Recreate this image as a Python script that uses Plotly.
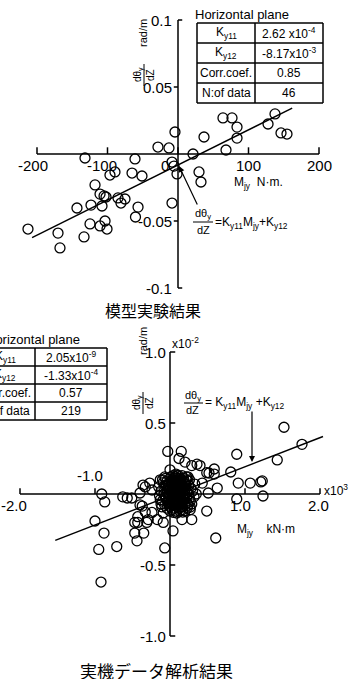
import plotly.graph_objects as go

W, H = 350, 679

# ---------------- data: model experiment (top) ----------------
top_mjy = [63.8, 76.6, 83.7, 137.6, 127.7, 146.1, 154.6, 36.9, 83.7, 68.1,
           21.3, -4.3, -28.4, -12.8, -131.9, -61.0, -8.5, -5.7, -1.4, 29.8,
           32.6, -96.5, -89.4, -65.2, -51.1, -117.7, -110.6, -104.9, -102.1, -85.1,
           -75.2, -80.9, -123.4, -107.8, -143.3, -56.7, -8.5, -60.3, -124.8, -110.6,
           -103.5, -100.7, -212.8, -170.2, -133.3, -167.4]
top_dtheta = [0.0269, 0.0269, 0.0201, 0.0299, 0.0224, 0.0157, 0.0149, 0.0127, 0.0119, 0.0030,
              0.0000, 0.0164, 0.0052, 0.0045, -0.0030, -0.0037, -0.0060, -0.0090, -0.0149, -0.0134,
              -0.0209, -0.0157, -0.0134, -0.0142, -0.0164, -0.0231, -0.0299, -0.0313, -0.0321, -0.0328,
              -0.0336, -0.0366, -0.0381, -0.0388, -0.0403, -0.0396, -0.0366, -0.0470, -0.0522, -0.0537,
              -0.0500, -0.0560, -0.0560, -0.0590, -0.0619, -0.0701]
top_K11, top_K12 = 2.62e-4, -8.17e-3
top_line_x = [-207, 162]
top_table = [["K<sub>y11</sub>", "2.62 x10<sup>-4</sup>"],
             ["K<sub>y12</sub>", "-8.17x10<sup>-3</sup>"],
             ["Corr.coef.", "0.85"],
             ["N:of data", "46"]]
top_xticks = [-200, -100, 0, 100, 200]
top_xtick_text = ["-200", "-100", "0", "100", "200"]
top_yticks = [0.1, 0.05, -0.05, -0.1]
top_ytick_text = ["0.1", "0.05", "-0.05", "-0.1"]

# ---------------- data: full-scale ship data (bottom) ----------------
# Mjy in x10^3 kN·m, dθy/dZ in x10^-2 rad/m
bot_out_x = [1.52, 1.76, 0.89, 1.43, 0.81, 0.59, 0.91, 1.07, 1.23, 1.21,
             0.63, 0.89, 1.24, -0.03, 0.15, 0.12, 0.20, 0.29, 0.36, 0.40,
             0.59, 0.49, 0.00, 0.09, -0.91, -0.87, -1.00, -0.88, -0.95, -0.71,
             -0.92, -0.57, -0.51, -0.40, -0.33, -0.37, -0.33, -0.43, -0.47, -0.35,
             -0.44, -0.29, -0.07, 0.61, 0.49, 0.29, 0.16, 0.04, -0.09, -0.47,
             -0.24, -0.17, -0.63, -0.36, -0.27, -0.24, -0.13, -0.07, 0.24, 0.23,
             0.27, 0.17, 0.09, -0.09, -0.31, -0.43, 0.51, 0.43, 0.52, -0.40]
bot_out_y = [0.47, 0.35, 0.28, 0.24, 0.155, 0.176, 0.077, 0.077, 0.092, 0.085,
             0.042, -0.035, -0.014, 0.30, 0.30, 0.25, 0.225, 0.20, 0.21, 0.20,
             0.14, 0.15, 0.17, 0.13, 0.00, -0.056, -0.19, -0.275, -0.39, -0.37,
             -0.62, -0.028, -0.028, 0.007, 0.05, -0.085, -0.127, -0.20, -0.275, -0.275,
             -0.33, -0.18, -0.38, -0.31, -0.12, -0.18, -0.18, -0.26, -0.20, -0.20,
             -0.13, -0.18, -0.02, 0.063, 0.077, 0.028, 0.10, 0.12, 0.12, -0.063,
             -0.092, -0.127, -0.134, -0.134, -0.20, -0.16, 0.007, 0.077, 0.148, -0.077]
bot_core_x = [0.05, 0.10, 0.02, 0.12, 0.07, -0.03, 0.15, 0.08, -0.06, 0.18,
              0.03, 0.11, -0.01, 0.20, 0.14, -0.08, 0.06, 0.22, 0.00, 0.16,
              -0.10, 0.09, 0.25, -0.04, 0.13, 0.04, 0.19, -0.12, 0.27, 0.01,
              0.08, 0.12, 0.04, 0.10, 0.06, 0.17, -0.02, 0.13, 0.07, 0.21,
              -0.07, 0.03, 0.24, 0.11, -0.14, 0.30, 0.05, 0.15, -0.05, 0.09,
              0.02, 0.14, 0.26, -0.09, 0.18, 0.00, 0.08, 0.23, -0.11, 0.32,
              0.06, 0.10, 0.01, 0.16, 0.12, 0.04, -0.03, 0.20, 0.08, 0.28,
              -0.15, 0.07, 0.13, 0.03, 0.11, 0.19, -0.01, 0.09, 0.17, 0.05,
              0.22, -0.06, 0.33, 0.14, 0.06, -0.13, 0.25, 0.10, 0.02, 0.18,
              0.07, 0.11, 0.03, 0.15, 0.09, -0.04, 0.21, 0.12, 0.00, 0.29,
              -0.08, 0.16, 0.05, 0.24, 0.13, -0.02, 0.08, 0.19, 0.04, 0.27,
              0.10, 0.06, 0.14, 0.01, 0.17, -0.05, 0.23, 0.11, 0.07, -0.10,
              0.20, 0.03, 0.12, 0.35, 0.09, -0.12, 0.15, 0.06, 0.26, 0.02,
              0.08, 0.13, 0.18, -0.01, 0.05, 0.10, 0.22, 0.04, -0.07, 0.16,
              0.11, 0.07, 0.14, 0.03, 0.19, 0.09, 0.12, 0.06, 0.17]
bot_core_y = [0.02, -0.01, -0.03, 0.04, -0.05, 0.01, 0.00, 0.06, -0.02, -0.04,
              0.08, -0.08, -0.07, 0.03, 0.09, 0.04, -0.10, -0.02, 0.05, -0.06,
              -0.05, 0.11, 0.06, 0.09, -0.12, -0.02, 0.08, 0.02, -0.05, 0.12,
              0.00, 0.01, 0.03, -0.04, 0.04, 0.02, -0.04, -0.02, 0.09, 0.07,
              -0.08, -0.11, -0.08, 0.13, -0.01, 0.02, -0.06, 0.05, 0.06, -0.03,
              0.01, -0.09, 0.10, 0.08, 0.11, -0.09, -0.12, -0.10, -0.09, -0.02,
              0.07, 0.03, -0.01, 0.01, -0.05, 0.10, -0.06, -0.07, 0.14, 0.04,
              0.05, 0.02, 0.07, -0.05, -0.02, -0.01, 0.03, 0.05, -0.11, -0.13,
              0.12, 0.11, 0.07, 0.03, -0.08, -0.04, 0.00, 0.08, 0.06, -0.03,
              -0.01, 0.06, 0.00, -0.07, 0.10, -0.10, 0.04, -0.10, -0.12, -0.07,
              0.00, 0.13, 0.05, 0.09, 0.00, 0.07, -0.07, 0.05, -0.08, -0.11,
              0.01, -0.03, 0.06, 0.09, -0.05, -0.03, 0.01, 0.10, 0.12, 0.10,
              -0.12, 0.04, -0.07, 0.00, -0.09, -0.07, 0.10, 0.01, -0.03, -0.06,
              0.03, 0.11, 0.00, 0.00, 0.08, -0.06, 0.10, 0.13, 0.06, -0.09,
              0.04, 0.05, -0.04, 0.02, 0.09, 0.07, 0.02, -0.04, 0.04]
bot_K11_scaled, bot_K12_scaled = 0.205, -0.0133   # K11=2.05e-9, K12=-1.33e-4 in plotted units
bot_line_x = [-1.53, 2.04]
bot_table = [["K<sub>y11</sub>", "2.05x10<sup>-9</sup>"],
             ["K<sub>y12</sub>", "-1.33x10<sup>-4</sup>"],
             ["Corr.coef.", "0.57"],
             ["N.of data", "219"]]
bot_xticks = [-2.0, -1.0, 1.0, 2.0]
bot_xtick_text = ["-2.0", "-1.0", "1.0", "2.0"]
bot_yticks = [1.0, 0.5, -0.5, -1.0]
bot_ytick_text = ["1.0", "0.5", "-0.5", "-1.0"]

FONT = "Liberation Sans, Arial, sans-serif"
CJK = "Noto Sans CJK JP"


def px(x):
    return x / W


def py(y):
    return 1 - y / H


fig = go.Figure()

fig.update_layout(
    width=W, height=H, autosize=False,
    margin=dict(l=0, r=0, t=0, b=0),
    paper_bgcolor="white", plot_bgcolor="white",
    showlegend=False,
    xaxis=dict(domain=[0, 1], range=[-178 / 0.705, 172 / 0.705], visible=False),
    yaxis=dict(domain=[py(300), 1], range=[(154 - 300) / 1340, 154 / 1340], visible=False),
    xaxis2=dict(domain=[0, 1], range=[-170 / 75, 180 / 75], visible=False, anchor="y2"),
    yaxis2=dict(domain=[0, py(320)], range=[(494 - 679) / 142, (494 - 320) / 142],
                visible=False, anchor="x2"),
)

mk = dict(symbol="circle-open", size=10, color="black", line=dict(width=1.3, color="black"))

fig.add_trace(go.Scatter(x=top_mjy, y=top_dtheta, mode="markers", marker=mk,
                         xaxis="x", yaxis="y", cliponaxis=False))
fig.add_trace(go.Scatter(x=top_line_x, y=[top_K11 * v + top_K12 for v in top_line_x],
                         mode="lines", line=dict(color="black", width=1.4),
                         xaxis="x", yaxis="y"))

fig.add_trace(go.Scatter(x=bot_out_x + bot_core_x, y=bot_out_y + bot_core_y, mode="markers",
                         marker=dict(symbol="circle-open", size=10, color="black",
                                     line=dict(width=1.3, color="black")),
                         xaxis="x2", yaxis="y2", cliponaxis=False))
fig.add_trace(go.Scatter(x=bot_line_x, y=[bot_K11_scaled * v + bot_K12_scaled for v in bot_line_x],
                         mode="lines", line=dict(color="black", width=1.4),
                         xaxis="x2", yaxis="y2"))

shapes = []
ann = []
AX = dict(color="black", width=1.5)

# ---- top axes lines ----
shapes.append(dict(type="line", xref="x", yref="y", x0=-200, x1=200, y0=0, y1=0, line=AX))
shapes.append(dict(type="line", xref="x", yref="y", x0=0, x1=0, y0=-0.1, y1=0.1, line=AX))
for v, t in zip(top_xticks, top_xtick_text):
    shapes.append(dict(type="line", xref="x", yref="y", x0=v, x1=v, y0=0, y1=0.005, line=AX))
    shift = {-200: -4, -100: -6, 0: -13, 100: 0, 200: 0}[v]
    ann.append(dict(x=v, y=0, xref="x", yref="y", text=t, showarrow=False,
                    xanchor="center", yanchor="middle", xshift=shift, yshift=-11,
                    font=dict(family=FONT, size=15, color="black")))
for v, t in zip(top_yticks, top_ytick_text):
    shapes.append(dict(type="line", xref="x", yref="y", x0=0, x1=6 if abs(v) > 0.07 else -6,
                       y0=v, y1=v, line=AX))
    ann.append(dict(x=0, y=v, xref="x", yref="y", text=t, showarrow=False,
                    xanchor="right", yanchor="middle", xshift=-4,
                    font=dict(family=FONT, size=15, color="black")))

# ---- bottom axes lines ----
shapes.append(dict(type="line", xref="x2", yref="y2", x0=-2.0, x1=2.0, y0=0, y1=0, line=AX))
shapes.append(dict(type="line", xref="x2", yref="y2", x0=0, x1=0, y0=-1.0, y1=1.0, line=AX))
for v, t in zip(bot_xticks, bot_xtick_text):
    shapes.append(dict(type="line", xref="x2", yref="y2", x0=v, x1=v, y0=0, y1=0.04, line=AX))
    if v == -1.0:
        ann.append(dict(x=v, y=0, xref="x2", yref="y2", text=t, showarrow=False,
                        xanchor="center", yanchor="middle", xshift=-5, yshift=19,
                        font=dict(family=FONT, size=15, color="black")))
    else:
        shift = {-2.0: -6, 1.0: -5, 2.0: -2}[v]
        ann.append(dict(x=v, y=0, xref="x2", yref="y2", text=t, showarrow=False,
                        xanchor="center", yanchor="middle", xshift=shift, yshift=-11,
                        font=dict(family=FONT, size=15, color="black")))
for v, t in zip(bot_yticks, bot_ytick_text):
    shapes.append(dict(type="line", xref="x2", yref="y2", x0=0, x1=0.07, y0=v, y1=v, line=AX))
    ann.append(dict(x=0, y=v, xref="x2", yref="y2", text=t, showarrow=False,
                    xanchor="right", yanchor="middle", xshift=-2,
                    font=dict(family=FONT, size=15, color="black")))


def text(xp, yp, t, size=12, xanchor="center", angle=0, family=FONT):
    ann.append(dict(x=px(xp), y=py(yp), xref="paper", yref="paper", text=t, showarrow=False,
                    xanchor=xanchor, yanchor="middle", textangle=angle,
                    font=dict(family=family, size=size, color="black")))


def pline(x0, y0, x1, y1, w=1.3):
    shapes.append(dict(type="line", xref="paper", yref="paper", x0=px(x0), y0=py(y0),
                       x1=px(x1), y1=py(y1), line=dict(color="black", width=w)))


def arrow(x_head, y_head, x_tail, y_tail):
    ann.append(dict(x=px(x_head), y=py(y_head), xref="paper", yref="paper", text="",
                    showarrow=True, axref="pixel", ayref="pixel",
                    ax=x_tail - x_head, ay=y_tail - y_head,
                    arrowhead=2, arrowsize=1, arrowwidth=1.2, arrowcolor="black"))


text(170, 343, "x10<sup>-2</sup>", size=12, xanchor="left")
text(322, 490, "x10<sup>3</sup>", size=12, xanchor="left")

# ---- axis titles ----
text(143, 33, "rad/m", size=11, angle=-90)
text(138, 75, "dθ<sub>y</sub>", size=10, angle=-90)
text(150, 75, "dZ", size=10, angle=-90)
pline(144, 64, 144, 86, 1.0)
text(258, 183, "M<sub>jy</sub>  N·m.", size=12)

text(143, 341, "rad/m", size=11, angle=-90)
text(137, 403, "dθ<sub>y</sub>", size=10, angle=-90)
text(149, 403, "dZ", size=10, angle=-90)
pline(143, 392, 143, 414, 1.0)
text(266, 530, "M<sub>jy</sub>    kN·m", size=12)


def table(x0, xm, x1, ytop, rowh, rows, title, title_x, title_y):
    text(title_x, title_y, title, size=13)
    n = len(rows)
    ybot = ytop + n * rowh
    for i in range(n + 1):
        pline(x0, ytop + i * rowh, x1, ytop + i * rowh, 1.5)
    for xx in (x0, xm, x1):
        pline(xx, ytop, xx, ybot, 1.5)
    for i, (a, b) in enumerate(rows):
        yc = ytop + (i + 0.5) * rowh
        text((x0 + xm) / 2, yc, a, size=12)
        text((xm + x1) / 2, yc, b, size=12)


table(197, 255, 323, 23, 20, top_table, "Horizontal plane", 242, 14)
table(-25, 35, 107, 348, 18, bot_table, "Horizontal plane", 33, 339)

# ---- regression formula annotations ----
text(203, 214, "dθ<sub>y</sub>", size=11)
pline(193, 222, 213, 222, 1.0)
text(203, 230, "dZ", size=11)
text(213, 223, "=K<sub>y11</sub>M<sub>jy</sub>+K<sub>y12</sub>", size=12, xanchor="left")
arrow(179, 166, 198, 206)

text(193, 396, "dθ<sub>y</sub>", size=11)
pline(184, 403, 203, 403, 1.0)
text(193, 410, "dZ", size=11)
text(203, 403, "= K<sub>y11</sub>M<sub>jy</sub> +K<sub>y12</sub>", size=12, xanchor="left")
arrow(252, 462, 252, 410)

# ---- captions ----
text(153, 310, "模型実験結果", size=16, family=CJK)
text(156, 670, "実機データ解析結果", size=17, family=CJK)

fig.update_layout(shapes=shapes, annotations=ann)
fig.write_html("out.html")
